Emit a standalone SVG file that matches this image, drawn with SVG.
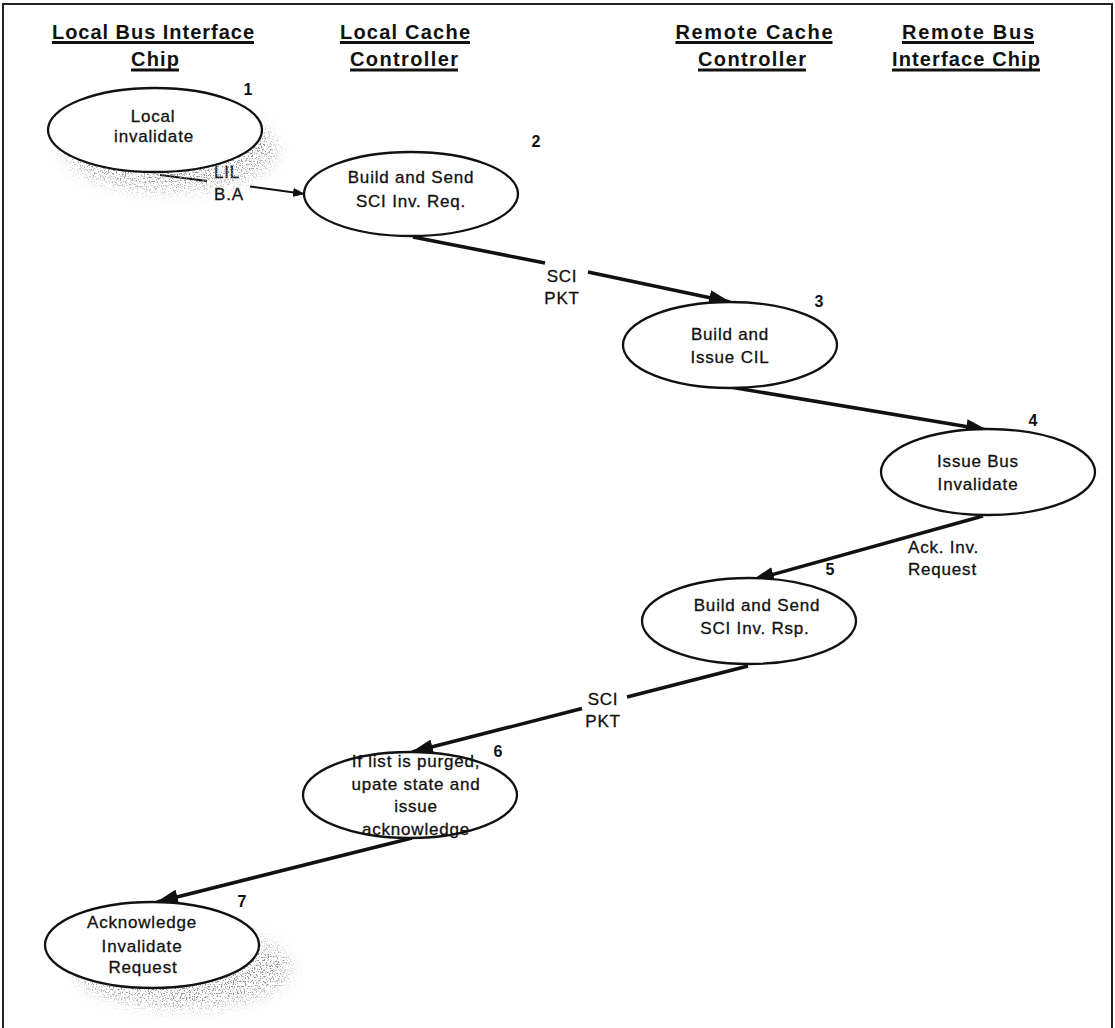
<svg xmlns="http://www.w3.org/2000/svg" width="1115" height="1028" viewBox="0 0 1115 1028">
  <style>
    .frame { stroke: #222; stroke-width: 2; fill: none; }
    .hdr { font-family: "Liberation Sans", Arial, sans-serif; font-size: 20px; font-weight: bold; fill: #111; text-anchor: middle; }
    .uline { stroke: #111; stroke-width: 3; }
    .node { fill: #fff; stroke: #111; stroke-width: 2.3; }
    .lbl { font-family: "Liberation Sans", Arial, sans-serif; font-size: 17px; fill: #111; stroke: #111; stroke-width: 0.3; text-anchor: middle; letter-spacing: 0.8px; }
    .start { text-anchor: start; }
    .num { font-family: "Liberation Sans", Arial, sans-serif; font-size: 16px; font-weight: bold; fill: #111; text-anchor: middle; }
    .edge { fill: none; stroke: #111; stroke-width: 3.5; }
    .thin { fill: none; stroke: #111; stroke-width: 2; }
    .shadow { fill: #000; filter: url(#stipple); }
  </style>
  <defs>
    <marker id="bigArrow" markerUnits="userSpaceOnUse" markerWidth="23" markerHeight="15" refX="21" refY="7.5" orient="auto">
      <path d="M0,0 L22,7.5 L0,15 z" fill="#111"/>
    </marker>
    <marker id="smallArrow" markerUnits="userSpaceOnUse" markerWidth="13" markerHeight="9" refX="12" refY="4.5" orient="auto">
      <path d="M0,0 L12,4.5 L0,9 z" fill="#111"/>
    </marker>
    <!-- speckled drop shadow -->
    <filter id="stipple" x="-40%" y="-60%" width="180%" height="220%">
      <feGaussianBlur in="SourceAlpha" stdDeviation="8" result="soft"/>
      <feTurbulence type="fractalNoise" baseFrequency="0.75" numOctaves="2" seed="11" result="noise"/>
      <feColorMatrix in="noise" type="matrix" values="0 0 0 0 0.28  0 0 0 0 0.28  0 0 0 0 0.28  0 0 0 7 -3.7" result="dots"/>
      <feComposite in="dots" in2="soft" operator="in"/>
    </filter>
  </defs>

  <rect width="1115" height="1028" fill="#fff"/>

  <!-- page frame -->
  <path class="frame" d="M3,1028 L3,4 L1112,4 L1112,1028"/>

  <!-- column headers -->
  <g id="headers">
    <text class="hdr" x="153" y="39" textLength="202" lengthAdjust="spacing">Local Bus Interface</text>
    <line class="uline" x1="52" y1="42.5" x2="254" y2="42.5"/>
    <text class="hdr" x="155" y="66" textLength="48" lengthAdjust="spacing">Chip</text>
    <line class="uline" x1="131" y1="70" x2="179" y2="70"/>

    <text class="hdr" x="405" y="39" textLength="130" lengthAdjust="spacing">Local Cache</text>
    <line class="uline" x1="340" y1="42.5" x2="470" y2="42.5"/>
    <text class="hdr" x="404" y="66" textLength="108" lengthAdjust="spacing">Controller</text>
    <line class="uline" x1="350" y1="70" x2="458" y2="70"/>

    <text class="hdr" x="754" y="39" textLength="157" lengthAdjust="spacing">Remote Cache</text>
    <line class="uline" x1="675.5" y1="42.5" x2="832.5" y2="42.5"/>
    <text class="hdr" x="752" y="66" textLength="108" lengthAdjust="spacing">Controller</text>
    <line class="uline" x1="698" y1="70" x2="806" y2="70"/>

    <text class="hdr" x="968" y="39" textLength="132" lengthAdjust="spacing">Remote Bus</text>
    <line class="uline" x1="902" y1="42.5" x2="1034" y2="42.5"/>
    <text class="hdr" x="966" y="66" textLength="148" lengthAdjust="spacing">Interface Chip</text>
    <line class="uline" x1="892" y1="70" x2="1040" y2="70"/>
  </g>

  <!-- connectors -->
  <g id="connectors">
    <path class="thin" d="M160,175 L207,181 M250,186.5 L305,194" marker-end="url(#smallArrow)"/>
    <path class="edge" d="M413,237 L545,263 M588,272 L730,302" marker-end="url(#bigArrow)"/>
    <path class="edge" d="M730,387 L987,430" marker-end="url(#bigArrow)"/>
    <path class="edge" d="M983,516 L753,580" marker-end="url(#bigArrow)"/>
    <path class="edge" d="M748,666 L627,697 M582,708.5 L412,752" marker-end="url(#bigArrow)"/>
    <path class="edge" d="M412,838 L157,902" marker-end="url(#bigArrow)"/>
  </g>

  <!-- edge labels -->
  <g id="edge-labels">
    <text class="lbl" x="227" y="178">LIL</text>
    <text class="lbl" x="229" y="200">B.A</text>
    <text class="lbl" x="562" y="282">SCI</text>
    <text class="lbl" x="562" y="304">PKT</text>
    <text class="lbl start" x="908" y="553">Ack. Inv.</text>
    <text class="lbl start" x="908" y="575">Request</text>
    <text class="lbl" x="603" y="705">SCI</text>
    <text class="lbl" x="603" y="727">PKT</text>
  </g>

  <!-- 1: local invalidate -->
  <g id="node1">
    <ellipse class="shadow" cx="170" cy="149" rx="107" ry="42"/>
    <ellipse class="node" cx="155" cy="130" rx="107" ry="42"/>
    <text class="lbl" x="153" y="122">Local</text>
    <text class="lbl" x="154" y="142">invalidate</text>
    <text class="num" x="248" y="95">1</text>
  </g>

  <!-- 2: build and send request -->
  <g id="node2">
    <ellipse class="node" cx="411" cy="194" rx="107" ry="42"/>
    <text class="lbl" x="411" y="183">Build and Send</text>
    <text class="lbl" x="411" y="207">SCI Inv. Req.</text>
    <text class="num" x="536" y="147">2</text>
  </g>

  <!-- 3: build and issue CIL -->
  <g id="node3">
    <ellipse class="node" cx="730" cy="345" rx="107" ry="43"/>
    <text class="lbl" x="730" y="340">Build and</text>
    <text class="lbl" x="730" y="363">Issue CIL</text>
    <text class="num" x="819" y="307">3</text>
  </g>

  <!-- 4: issue bus invalidate -->
  <g id="node4">
    <ellipse class="node" cx="988" cy="472" rx="107" ry="43"/>
    <text class="lbl" x="978" y="467">Issue Bus</text>
    <text class="lbl" x="978" y="490">Invalidate</text>
    <text class="num" x="1033" y="426">4</text>
  </g>

  <!-- 5: build and send response -->
  <g id="node5">
    <ellipse class="node" cx="749" cy="621" rx="107" ry="43"/>
    <text class="lbl" x="757" y="611">Build and Send</text>
    <text class="lbl" x="755" y="634">SCI Inv. Rsp.</text>
    <text class="num" x="830" y="575">5</text>
  </g>

  <!-- 6: update state -->
  <g id="node6">
    <ellipse class="node" cx="410" cy="795" rx="107" ry="43"/>
    <text class="lbl" x="416" y="767">If list is purged,</text>
    <text class="lbl" x="416" y="790">upate state and</text>
    <text class="lbl" x="416" y="812">issue</text>
    <text class="lbl" x="416" y="835">acknowledge</text>
    <text class="num" x="498" y="757">6</text>
  </g>

  <!-- 7: acknowledge -->
  <g id="node7">
    <ellipse class="shadow" cx="183" cy="968" rx="108" ry="40"/>
    <ellipse class="node" cx="152" cy="945" rx="107" ry="43"/>
    <text class="lbl" x="142" y="928">Acknowledge</text>
    <text class="lbl" x="142" y="952">Invalidate</text>
    <text class="lbl" x="143" y="973">Request</text>
    <text class="num" x="242" y="907">7</text>
  </g>
</svg>
